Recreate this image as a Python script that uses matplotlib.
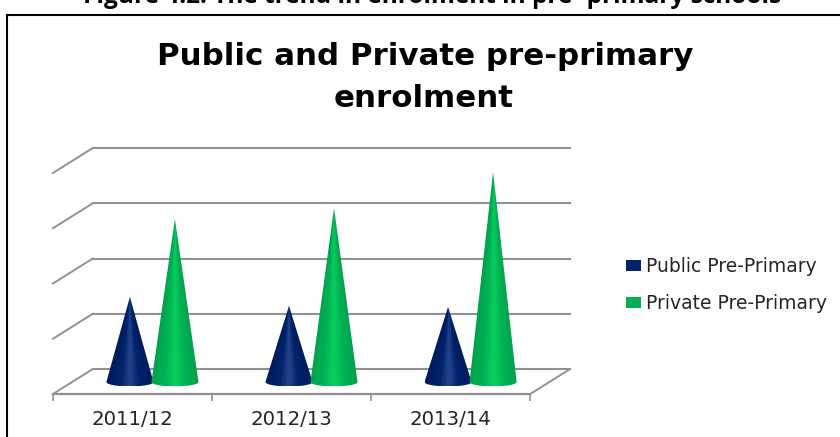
import numpy as np
import matplotlib
matplotlib.use("Agg")
import matplotlib.pyplot as plt
from matplotlib.colors import LinearSegmentedColormap
from matplotlib.lines import Line2D
from matplotlib.patches import Patch, Polygon

years = ["2011/12", "2012/13", "2013/14"]
public = [1.54, 1.38, 1.36]
private = [2.95, 3.15, 3.80]
grid_levels = [0, 1, 2, 3, 4]

# floor depth of the fake 3D box, in data units
depth_x = 0.25
floor_front = -0.217
floor_back = 0.235
half_width = 0.148
ellipse_h = 0.08
grey = "#919191"

blue_cmap = LinearSegmentedColormap.from_list("blue", [(0, "#001a5e"), (0.3, "#00226a"), (0.5, "#27438e"), (0.7, "#00226a"), (1, "#001a5e")])
green_cmap = LinearSegmentedColormap.from_list("green", [(0, "#00a24c"), (0.25, "#00b052"), (0.5, "#08cf60"), (0.75, "#00b052"), (1, "#00a24c")])


def draw_cone(ax, xc, height, cmap, z):
    t = np.linspace(np.pi, 2 * np.pi, 40)
    base_x = xc + half_width * np.cos(t)
    base_y = ellipse_h * np.sin(t)
    pts = np.column_stack([np.r_[xc, base_x], np.r_[height, base_y]])
    clip = Polygon(pts, closed=True, transform=ax.transData, fc="none", ec="none")
    ax.add_patch(clip)
    # shading narrows towards the tip along with the cone
    u = np.linspace(-1, 1, 128)
    v = np.linspace(-ellipse_h, height, 300)
    narrow = np.clip(1 - np.maximum(v, 0) / height, 0.01, 1)
    shade = 0.5 + 0.5 * np.clip(u[None, :] / narrow[:, None], -1, 1)
    im = ax.imshow(shade, cmap=cmap, aspect="auto", zorder=z, interpolation="bilinear", origin="lower",
                   extent=[xc - half_width, xc + half_width, -ellipse_h, height])
    im.set_clip_path(clip)


fig = plt.figure(figsize=(8.4, 4.37), dpi=100)
ax = fig.add_axes([53 / 840, 43 / 437, 517 / 840, 246 / 437])
ax.patch.set_visible(False)

for lvl in grid_levels:
    y_back = lvl + floor_back
    ax.plot([depth_x, 3 + depth_x], [y_back, y_back], color=grey, lw=1.5, clip_on=False, zorder=1)
    ax.plot([0, depth_x], [lvl + floor_front, y_back], color=grey, lw=1.4, clip_on=False, zorder=1)

# front edge and right side of the floor
ax.plot([0, 3], [floor_front, floor_front], color=grey, lw=1.6, clip_on=False, zorder=1)
ax.plot([3, 3 + depth_x], [floor_front, floor_back], color=grey, lw=1.4, clip_on=False, zorder=1)

for i in range(len(years)):
    centre = i + 0.5 + depth_x / 2
    draw_cone(ax, centre - 0.1415, public[i], blue_cmap, 3)
    draw_cone(ax, centre + 0.1415, private[i], green_cmap, 4)

ax.set_xlim(0, 3 + depth_x)
ax.set_ylim(floor_front, 4 + floor_back)

for s in ax.spines.values():
    s.set_visible(False)
ax.set_yticks([])
ax.set_xticks([0, 1, 2, 3])
ax.set_xticklabels([])
ax.tick_params(axis="x", which="major", length=5, width=1.2, color=grey)
ax.set_xticks([0.5, 1.5, 2.5], minor=True)
ax.set_xticklabels(years, minor=True, fontsize=14.2, color="#262626", family="DejaVu Sans")
ax.tick_params(axis="x", which="minor", length=0, pad=11.3)

handles = [Patch(fc="#00226a", ec="none"), Patch(fc="#00b052", ec="none")]
fig.legend(handles, ["Public Pre-Primary", "Private Pre-Primary"], loc="upper left",
           bbox_to_anchor=(626 / 840, 1 - 257 / 437), frameon=False, ncol=1,
           prop={"family": "DejaVu Sans", "size": 13.5}, labelcolor="#262626",
           handlelength=0.78, handleheight=0.55, handletextpad=0.3, labelspacing=0.95,
           borderpad=0, borderaxespad=0)

fig.text(425 / 840, 1 - 65 / 437, "Public and Private pre-primary", ha="center", va="baseline",
         fontsize=22.2, fontweight="bold", family="DejaVu Sans", color="black")
fig.text(424 / 840, 1 - 107 / 437, "enrolment", ha="center", va="baseline",
         fontsize=22.2, fontweight="bold", family="DejaVu Sans", color="black")
fig.text(432 / 840, 1 - 3 / 437, "Figure 4.2: The trend in enrolment in pre- primary schools", ha="center", va="baseline",
         fontsize=17.6, fontweight="bold", family="Open Sans", color="black")

# outer frame, only top and left show
fig.add_artist(Line2D([7 / 840, 1], [1 - 15 / 437, 1 - 15 / 437], color="black", lw=1.5))
fig.add_artist(Line2D([7 / 840, 7 / 840], [0, 1 - 15 / 437], color="black", lw=1.5))

fig.savefig("out.png", dpi=100)
